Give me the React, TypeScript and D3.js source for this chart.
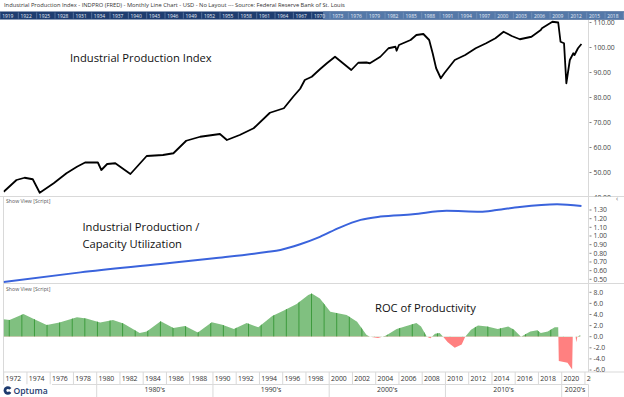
import * as d3 from 'd3';

// Industrial Production Index (INDPRO) [decimal year, value]
const ipIndex: [number, number][] = [
  [1972.0, 42.3], [1973.1, 47], [1973.8, 47.9], [1974.5, 47.3], [1975.1, 41.9],
  [1976.3, 45.7], [1977.4, 49.7], [1978.3, 52.3], [1979.0, 54], [1980.1, 54],
  [1980.4, 51], [1980.9, 53.4], [1981.6, 53.7], [1982.9, 49.4], [1984.3, 56.6],
  [1985.7, 57], [1986.6, 57.7], [1987.7, 62.7], [1988.9, 64.3], [1990.6, 65.4],
  [1991.2, 63], [1992.3, 65], [1993.5, 67.7], [1994.9, 73.9], [1996.1, 75.7],
  [1996.9, 80.3], [1997.5, 83.5], [1997.9, 87], [1998.5, 88.3], [1999.2, 91.3],
  [1999.8, 93.7], [2000.5, 96.3], [2001.9, 91], [2002.5, 93.9], [2003.2, 94],
  [2003.5, 93.7], [2004.4, 96.3], [2005.1, 99.7], [2005.7, 100.3], [2005.8, 98.7],
  [2006.0, 101], [2007.0, 103], [2007.5, 105], [2008.1, 105.4], [2008.6, 103],
  [2008.9, 97.7], [2009.2, 91.7], [2009.6, 87.7], [2009.9, 89.7], [2010.8, 95],
  [2011.7, 97], [2012.6, 99.7], [2013.5, 101.7], [2014.3, 103.7], [2015.0, 106.3],
  [2015.7, 104.6], [2016.4, 103.3], [2017.4, 104.3], [2018.2, 107], [2018.3, 107.7],
  [2019.2, 110.3], [2019.7, 110], [2019.9, 102.3], [2020.2, 101.7], [2020.4, 85.7],
  [2020.7, 95], [2021.0, 97.7], [2021.1, 97], [2021.4, 99.7], [2021.7, 101.4],
];

// Industrial Production / Capacity Utilization
const capRatio: [number, number][] = [
  [1972.0, 0.47], [1978.6, 0.58], [1985.5, 0.677], [1990.1, 0.743], [1994.6, 0.815],
  [1995.8, 0.839], [1997.5, 0.905], [1999.2, 0.99], [2000.9, 1.097], [2002.7, 1.186],
  [2004.4, 1.224], [2007.2, 1.25], [2010.1, 1.29], [2013.0, 1.28], [2014.4, 1.3],
  [2016.4, 1.336], [2019.6, 1.367], [2021.7, 1.347],
];

// ROC of Productivity
const prodRoc: [number, number][] = [
  [1972.0, 3.15], [1972.5, 3.0], [1973.7, 4.1], [1974.5, 3.3], [1975.7, 2.1],
  [1976.8, 2.55], [1978.3, 3.5], [1979.1, 3.3], [1980.3, 2.55], [1981.4, 3.0],
  [1982.3, 2.4], [1983.7, 0.65], [1984.3, 0.95], [1985.5, 2.8], [1986.6, 1.55],
  [1987.6, 1.95], [1988.7, 0.77], [1989.9, 2.6], [1990.8, 2.15], [1991.8, 1.4],
  [1992.9, 2.45], [1993.9, 1.7], [1995.1, 3.75], [1996.1, 4.7], [1997.2, 5.9],
  [1998.2, 7.5], [1998.5, 7.8], [1999.2, 6.9], [2000.1, 4.5], [2001.5, 3.9],
  [2002.4, 2.7], [2003.2, 0.35], [2003.5, 0], [2004.2, -0.25], [2004.9, 0.2],
  [2005.8, 1.4], [2007.0, 2.15], [2007.5, 2.45], [2007.9, 1.85], [2008.4, 0],
  [2008.7, -0.3], [2009.1, 0.55], [2009.5, 0.65], [2009.8, 0], [2010.2, -1.0],
  [2010.8, -2.0], [2011.4, -1.4], [2011.7, 0], [2012.2, 1.25], [2012.8, 2.0],
  [2013.6, 1.85], [2014.5, 1.4], [2015.4, 1.85], [2015.9, 1.25], [2016.5, 0],
  [2017.3, 0.95], [2017.9, 1.15], [2018.2, 0.65], [2018.8, 0.95], [2019.4, 1.7],
  [2019.7, 1.7], [2019.75, -4.4], [2020.5, -4.7], [2020.9, -5.9], [2020.95, 0],
  [2021.2, 0], [2021.25, -1.0], [2021.35, 0], [2021.6, 0.3],
];

const ipTicks = [40, 50, 60, 70, 80, 90, 100, 110];
const ratioTicks = [0.5, 0.6, 0.7, 0.8, 0.9, 1.0, 1.1, 1.2, 1.3];
const rocTicks = [-6, -4, -2, 0, 2, 4, 6, 8];
const yearLabels = d3.range(1972, 2024, 2);
const decadeLabels = [1980, 1990, 2000, 2010, 2020];
const navYears = d3.range(1919, 2022, 3);

const TITLE =
  'Industrial Production Index - INDPRO (FRED) - Monthly Line Chart - USD - No Layout --- Source: Federal Reserve Bank of St. Louis';
const FONT = '"Open Sans", "Noto Sans", sans-serif';

const W = 624;
const H = 397;
const LEFT = 3.5;
const RIGHT = 588.5;
const P1 = { top: 20, bottom: 196.5 };
const P2 = { top: 196.5, bottom: 283.5 };
const P3 = { top: 283.5, bottom: 372 };
const ROW1 = 384.5;

export default function App() {
  const x = d3.scaleLinear().domain([1972, 2020]).range([3.7, 561.7]);
  const xNav = d3.scaleLinear().domain([1919, 2021.1]).range([0, W]);
  const y1 = d3.scaleLinear().domain([40, 110]).range([197.5, 22.5]);
  const y2 = d3.scaleLinear().domain([0.5, 1.3]).range([279.3, 210]);
  const y3 = d3.scaleLinear().domain([-6, 8]).range([370, 292.3]);

  const ipLine = d3.line<[number, number]>().x(d => x(d[0])).y(d => y1(d[1]));
  const capLine = d3
    .line<[number, number]>()
    .x(d => x(d[0]))
    .y(d => y2(d[1]))
    .curve(d3.curveMonotoneX);
  const rocArea = d3
    .area<[number, number]>()
    .x(d => x(d[0]))
    .y0(y3(0))
    .y1(d => y3(d[1]));
  const rocPath = rocArea(prodRoc) || '';

  // darker bar stripes in the histogram
  const stripes = d3.range(1972.48, 2021.7, 13 / 12);

  const axisLabel = (y: number, label: string, key: string) => (
    <g key={key}>
      <line x1={589.5} x2={591.5} y1={y} y2={y} stroke="#666" strokeWidth={0.8} />
      <text x={593.5} y={y} dy="0.35em" fontSize={6.8} fill="#444">
        {label}
      </text>
    </g>
  );

  const zero = y3(0);
  const navSel = xNav(x.invert(LEFT - 1.5));

  return (
    <div style={{ position: 'fixed', left: 0, top: 0 }}>
      <svg width={W} height={H} style={{ display: 'block', fontFamily: FONT, background: '#fff' }}>
        <defs>
          <clipPath id="c1">
            <rect x={LEFT} y={P1.top} width={RIGHT - LEFT} height={P1.bottom - P1.top} />
          </clipPath>
          <clipPath id="c2">
            <rect x={LEFT} y={P2.top} width={RIGHT - LEFT} height={P2.bottom - P2.top} />
          </clipPath>
          <clipPath id="c3">
            <rect x={LEFT} y={P3.top} width={RIGHT - LEFT} height={P3.bottom - P3.top} />
          </clipPath>
          <clipPath id="a1">
            <rect x={RIGHT} y={P1.top} width={W - RIGHT} height={P1.bottom - P1.top} />
          </clipPath>
          <clipPath id="a2">
            <rect x={RIGHT} y={P2.top + 0.5} width={W - RIGHT} height={P2.bottom - P2.top - 0.5} />
          </clipPath>
          <clipPath id="a3">
            <rect x={RIGHT} y={P3.top + 0.5} width={W - RIGHT} height={P3.bottom - P3.top - 0.5} />
          </clipPath>
          <clipPath id="pos">
            <rect x={LEFT} y={P3.top} width={RIGHT - LEFT} height={zero - P3.top} />
          </clipPath>
          <clipPath id="neg">
            <rect x={LEFT} y={zero} width={RIGHT - LEFT} height={P3.bottom - zero} />
          </clipPath>
          <clipPath id="rocShape">
            <path d={rocPath} />
          </clipPath>
          <clipPath id="yearRow">
            <rect x={LEFT} y={P3.bottom} width={591 - LEFT} height={ROW1 - P3.bottom} />
          </clipPath>
          <clipPath id="navClip">
            <rect x={0} y={11} width={W} height={9} />
          </clipPath>
        </defs>

        {/* header */}
        <text x={4} y={6.5} fontSize={5.75} fill="#333">
          {TITLE}
        </text>

        {/* navigator bar */}
        <g clipPath="url(#navClip)">
          <rect x={0} y={11.5} width={W} height={8} fill="#1e3d70" />
          <rect x={navSel} y={11.5} width={W - navSel} height={8} fill="#5478a8" />
          {navYears.map(yr => (
            <g key={yr}>
              <line x1={xNav(yr)} x2={xNav(yr)} y1={12.5} y2={18.5} stroke="#8fa6c8" strokeWidth={0.5} />
              <text x={xNav(yr) + 2.2} y={17.6} fontSize={4.9} fill="#e6edf7">
                {yr}
              </text>
            </g>
          ))}
        </g>

        {/* panel frames */}
        <g stroke="#d9d9d9" strokeWidth={1} fill="none">
          <line x1={LEFT} x2={LEFT} y1={P2.top} y2={ROW1} />
          <line x1={RIGHT} x2={RIGHT} y1={P1.top} y2={P3.bottom} />
          <line x1={0} x2={W} y1={P1.bottom} y2={P1.bottom} />
          <line x1={LEFT} x2={W} y1={P2.bottom} y2={P2.bottom} />
          <line x1={LEFT} x2={W} y1={P3.bottom} y2={P3.bottom} />
          <line x1={52} x2={RIGHT} y1={ROW1} y2={ROW1} />
        </g>

        {/* panel 1: Industrial Production Index */}
        <g clipPath="url(#c1)">
          <path d={ipLine(ipIndex) || ''} fill="none" stroke="#000" strokeWidth={1.8} strokeLinejoin="round" />
        </g>
        <text x={70} y={61.5} fontSize={11.2} fill="#111">
          Industrial Production Index
        </text>
        <g clipPath="url(#a1)">{ipTicks.map(t => axisLabel(y1(t), t.toFixed(2), 'p1' + t))}</g>

        {/* panel 2: IP / Capacity Utilization */}
        <text x={6} y={203} fontSize={5.2} fill="#555">
          Show View [Script]
        </text>
        <g clipPath="url(#c2)">
          <path d={capLine(capRatio) || ''} fill="none" stroke="#3a63dc" strokeWidth={2} />
        </g>
        <text x={82.5} y={230.5} fontSize={11.2} fill="#111">
          Industrial Production /
        </text>
        <text x={82.5} y={248} fontSize={11.2} fill="#111">
          Capacity Utilization
        </text>
        <g clipPath="url(#a2)">{ratioTicks.map(t => axisLabel(y2(t), t.toFixed(2), 'p2' + t))}</g>
        <text x={616} y={201} fontSize={7} fill="#666">
          ‹
        </text>

        {/* panel 3: ROC of Productivity */}
        <text x={6} y={290.5} fontSize={5.2} fill="#555">
          Show View [Script]
        </text>
        <g clipPath="url(#c3)">
          <g clipPath="url(#pos)">
            <path d={rocPath} fill="#80c080" />
            <g clipPath="url(#rocShape)">
              {stripes.map((s, i) => (
                <line key={i} x1={x(s)} x2={x(s)} y1={P3.top} y2={zero} stroke="#3d9b3d" strokeWidth={1} />
              ))}
            </g>
          </g>
          <g clipPath="url(#neg)">
            <path d={rocPath} fill="#ff8080" />
          </g>
        </g>
        <text x={375} y={311.5} fontSize={11.2} fill="#111">
          ROC of Productivity
        </text>
        <g clipPath="url(#a3)">{rocTicks.map(t => axisLabel(y3(t), t.toFixed(1), 'p3' + t))}</g>

        {/* year row */}
        <g clipPath="url(#yearRow)">
          {yearLabels.map(yr => (
            <g key={yr}>
              <line x1={x(yr)} x2={x(yr)} y1={P3.bottom} y2={ROW1} stroke="#d9d9d9" />
              <text x={x(yr) + 1.8} y={380.8} fontSize={6.9} fill="#333">
                {yr}
              </text>
            </g>
          ))}
        </g>

        {/* decade row */}
        {decadeLabels.map(dc => {
          const x0 = x(dc);
          const x1 = Math.min(x(dc + 10), RIGHT);
          return (
            <g key={dc}>
              <line x1={x0} x2={x0} y1={ROW1} y2={H} stroke="#d9d9d9" />
              <text x={(x0 + x1) / 2} y={391.5} fontSize={6.9} fill="#333" textAnchor="middle">
                {dc}'s
              </text>
            </g>
          );
        })}
        <line x1={RIGHT} x2={RIGHT} y1={ROW1} y2={H} stroke="#d9d9d9" />

        {/* logo */}
        <g>
          <circle cx={7.8} cy={390.5} r={4.2} fill="#1d3a6e" />
          <path d="M 7.8 390.5 L 12.5 387.5 L 12.5 393.5 Z" fill="#fff" />
          <circle cx={7.8} cy={390.5} r={1.4} fill="#fff" />
          <text x={13.5} y={393.6} fontSize={8.6} fill="#1d3a6e" fontWeight={600}>
            Optuma
          </text>
        </g>
      </svg>
    </div>
  );
}
